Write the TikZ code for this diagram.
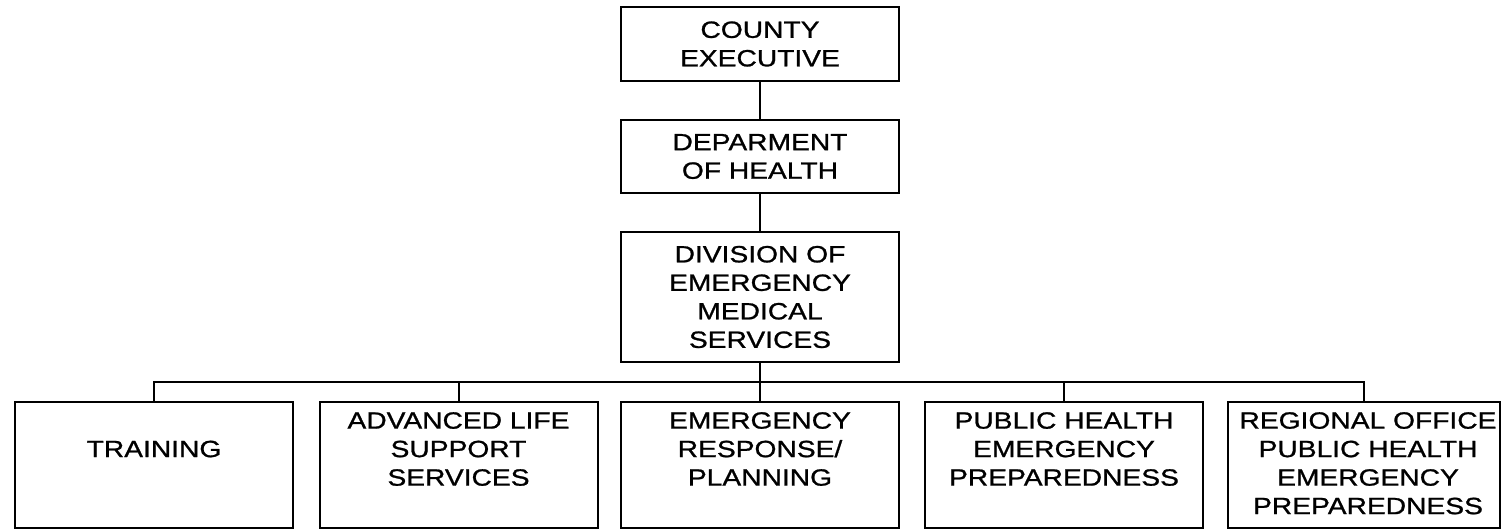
\documentclass[tikz,border=0pt]{standalone}
\usepackage{fontspec}
\newfontfamily\orgfont{Liberation Sans}[FakeStretch=1.2,FakeBold=1]
\usepackage{tikz}
\usetikzlibrary{positioning}

\tikzset{
  orgtext/.style={font=\orgfont\fontsize{23.5}{28.5}\selectfont, align=center},
  box/.style={draw, line width=2pt, inner sep=0pt, minimum width=278pt, orgtext},
  unit/.style={box, minimum height=126pt},
  label text/.style={inner sep=0pt, orgtext},
  link/.style={line width=2pt}
}

\begin{document}
\begin{tikzpicture}[x=1pt,y=-1pt]
        \useasboundingbox (0,0) rectangle (1503,531);

        \node[box, minimum height=74pt] (exec) at (760,44) {COUNTY\\EXECUTIVE};
        \node[box, minimum height=73pt] (health) at (760,156.5) {DEPARMENT\\OF HEALTH};
        \node[box, minimum height=130pt] (ems) at (760,297) {DIVISION OF\\EMERGENCY\\MEDICAL\\SERVICES};

        \node[unit] (train) at (154,465) {};
        \node[unit] (als) at (458.5,465) {};
        \node[unit] (erp) at (760,465) {};
        \node[unit] (phep) at (1064,465) {};
        \node[unit, minimum width=272pt] (rophep) at (1364,465) {};

        \node[label text, below=39.5pt of train.north] (train text) {TRAINING};
        \node[label text, below=11pt of als.north] (als text) {ADVANCED LIFE\\SUPPORT\\SERVICES};
        \node[label text, below=11pt of erp.north] (erp text) {EMERGENCY\\RESPONSE/\\PLANNING};
        \node[label text, below=11pt of phep.north] (phep text) {PUBLIC HEALTH\\EMERGENCY\\PREPAREDNESS};
        \node[label text, below=11pt of rophep.north, xshift=4pt] (rophep text) {REGIONAL OFFICE\\PUBLIC HEALTH\\EMERGENCY\\PREPAREDNESS};

        \coordinate (bus) at (760,382);
        \draw[link] (exec.south) -- (health.north);
        \draw[link] (health.south) -- (ems.north);
        \draw[link] (ems.south) -- (bus);
        \foreach \b in {train,als,erp,phep,rophep}
            \draw[link] (bus) -| (\b.north);
\end{tikzpicture}
\end{document}
